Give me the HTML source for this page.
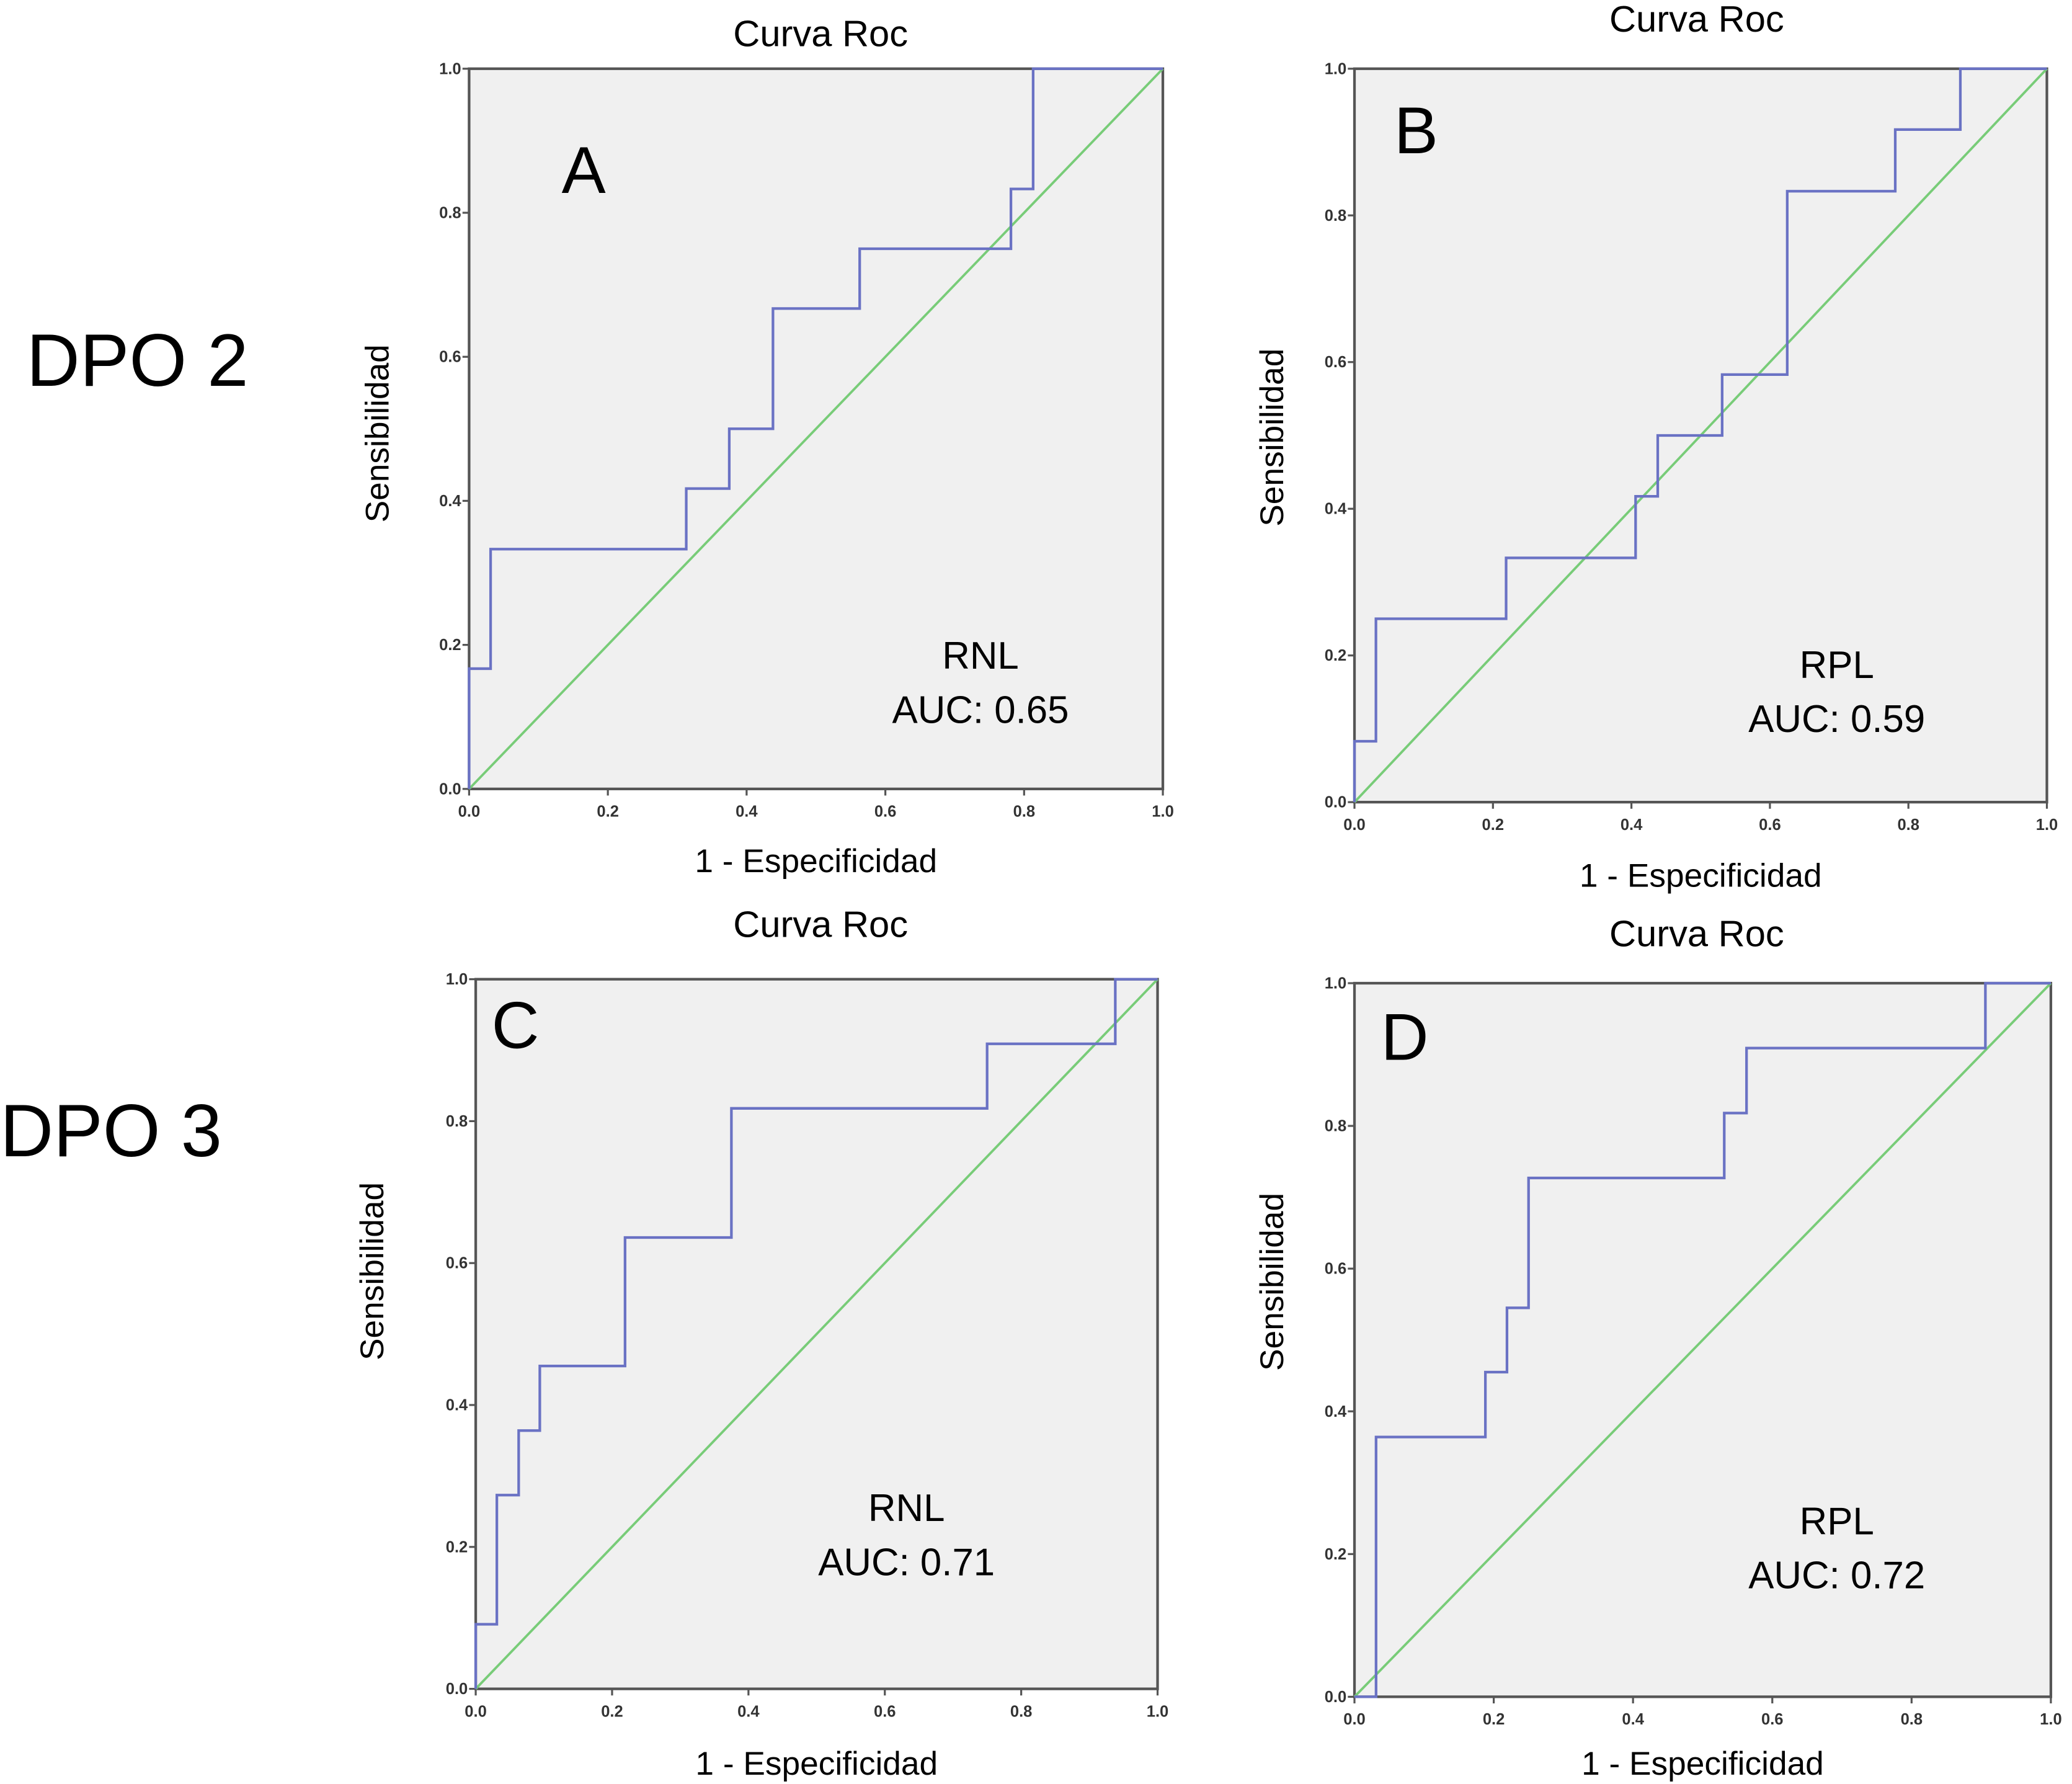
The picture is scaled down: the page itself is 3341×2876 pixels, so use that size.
<!DOCTYPE html>
<html><head><meta charset="utf-8"><style>
html,body{margin:0;padding:0;background:#fff;}
svg{display:block;}
text{font-family:"Liberation Sans",sans-serif;fill:#000;}
.tk{font-size:12px;font-weight:bold;fill:#333;}
</style></head><body>
<svg id="fig" width="3341" height="2876" viewBox="0 0 1568 1350" preserveAspectRatio="none" xmlns="http://www.w3.org/2000/svg">
<text x="20" y="292" font-size="56">DPO 2</text>
<text x="0" y="875" font-size="56">DPO 3</text>
</svg>
<script>
// Panel A (RNL, DPO 2)
const aX = [0,0,0.031,0.031,0.313,0.313,0.375,0.375,0.438,0.438,0.563,0.563,0.781,0.781,0.813,0.813,1];
const aY = [0,0.167,0.167,0.333,0.333,0.417,0.417,0.5,0.5,0.667,0.667,0.75,0.75,0.833,0.833,1,1];
// Panel B (RPL, DPO 2)
const bX = [0,0,0.031,0.031,0.219,0.219,0.406,0.406,0.438,0.438,0.531,0.531,0.625,0.625,0.781,0.781,0.875,0.875,1];
const bY = [0,0.083,0.083,0.25,0.25,0.333,0.333,0.417,0.417,0.5,0.5,0.583,0.583,0.833,0.833,0.917,0.917,1,1];
// Panel C (RNL, DPO 3)
const cX = [0,0,0.031,0.031,0.063,0.063,0.094,0.094,0.219,0.219,0.375,0.375,0.75,0.75,0.938,0.938,1];
const cY = [0,0.091,0.091,0.273,0.273,0.364,0.364,0.455,0.455,0.636,0.636,0.818,0.818,0.909,0.909,1,1];
// Panel D (RPL, DPO 3)
const dX = [0,0.031,0.031,0.188,0.188,0.219,0.219,0.25,0.25,0.531,0.531,0.563,0.563,0.906,0.906,1];
const dY = [0,0,0.364,0.364,0.455,0.455,0.545,0.545,0.727,0.727,0.818,0.818,0.909,0.909,1,1];
const ticks = [0,0.2,0.4,0.6,0.8,1.0];
const tickLabels = ["0.0","0.2","0.4","0.6","0.8","1.0"];

const NS="http://www.w3.org/2000/svg";
const svg=document.getElementById('fig');
function mk(tag,attrs,parent){const e=document.createElementNS(NS,tag);for(const k in attrs)e.setAttribute(k,attrs[k]);(parent||svg).appendChild(e);return e;}

const panels=[
 {id:'a',x0:355,x1:880,y0:52,y1:597,xs:aX,ys:aY,letter:'A',lx:425,ly:146,lbl:'RNL',auc:'AUC:  0.65',tx:742,ty1:506,ty2:547,title:'Curva Roc',titleX:621,titleY:35,ylabX:294,ylabY:328,xlabY:660},
 {id:'b',x0:1025,x1:1549,y0:52,y1:607,xs:bX,ys:bY,letter:'B',lx:1055,ly:116,lbl:'RPL',auc:'AUC: 0.59',tx:1390,ty1:513,ty2:554,title:'Curva Roc',titleX:1284,titleY:24,ylabX:971,ylabY:331,xlabY:671},
 {id:'c',x0:360,x1:876,y0:741,y1:1278,xs:cX,ys:cY,letter:'C',lx:372,ly:793,lbl:'RNL',auc:'AUC: 0.71',tx:686,ty1:1151,ty2:1192,title:'Curva Roc',titleX:621,titleY:709,ylabX:290,ylabY:962,xlabY:1343},
 {id:'d',x0:1025,x1:1552,y0:744,y1:1284,xs:dX,ys:dY,letter:'D',lx:1045,ly:802,lbl:'RPL',auc:'AUC: 0.72',tx:1390,ty1:1161,ty2:1202,title:'Curva Roc',titleX:1284,titleY:716,ylabX:971,ylabY:970,xlabY:1343}
];
panels.forEach(p=>{
 const sx=v=>p.x0+v*(p.x1-p.x0);
 const sy=v=>p.y1-v*(p.y1-p.y0);
 const g=mk('g',{});
 
 
 const bg=mk('rect',{x:p.x0,y:p.y0,width:p.x1-p.x0,height:p.y1-p.y0,fill:'#f0f0f0',stroke:'#555','stroke-width':2},g);
 
 
 ticks.forEach((t,i)=>{
  mk('line',{x1:sx(t),x2:sx(t),y1:p.y1,y2:p.y1+5,stroke:'#555','stroke-width':1.5},g);
  mk('line',{x1:p.x0-5,x2:p.x0,y1:sy(t),y2:sy(t),stroke:'#555','stroke-width':1.5},g);
  const xt=mk('text',{x:sx(t),y:p.y1+21,'text-anchor':'middle',class:'tk'},g);xt.textContent=tickLabels[i];
  
  
  const yt=mk('text',{x:p.x0-6,y:sy(t)+4,'text-anchor':'end',class:'tk'},g);yt.textContent=tickLabels[i];
  
  
 });
 const ref=mk('line',{x1:sx(0),y1:sy(0),x2:sx(1),y2:sy(1),stroke:'#78cc78','stroke-width':1.8},g);
 
 
 const pts=p.xs.map((x,i)=>sx(x)+','+sy(p.ys[i])).join(' ');
 const roc=mk('polyline',{points:pts,fill:'none',stroke:'#6a72c4','stroke-width':2},g);
 
 
 const t=mk('text',{x:p.titleX,y:p.titleY,'text-anchor':'middle','font-size':28},g);t.textContent=p.title;
 
 
 const xl=mk('text',{x:(p.x0+p.x1)/2,y:p.xlabY,'text-anchor':'middle','font-size':25},g);xl.textContent='1 - Especificidad';
 
 
 const cy=p.ylabY;
 const yl=mk('text',{x:p.ylabX,y:cy,'text-anchor':'middle','font-size':25,transform:'rotate(-90 '+p.ylabX+' '+cy+')'},g);yl.textContent='Sensibilidad';
 
 
 const L=mk('text',{x:p.lx,y:p.ly,'font-size':50},g);L.textContent=p.letter;
 
 
 const r=mk('text',{x:p.tx,y:p.ty1,'text-anchor':'middle','font-size':29},g);r.textContent=p.lbl;
 
 
 const a=mk('text',{x:p.tx,y:p.ty2,'text-anchor':'middle','font-size':29},g);a.textContent=p.auc;
 
 
});
</script>
</body></html>
